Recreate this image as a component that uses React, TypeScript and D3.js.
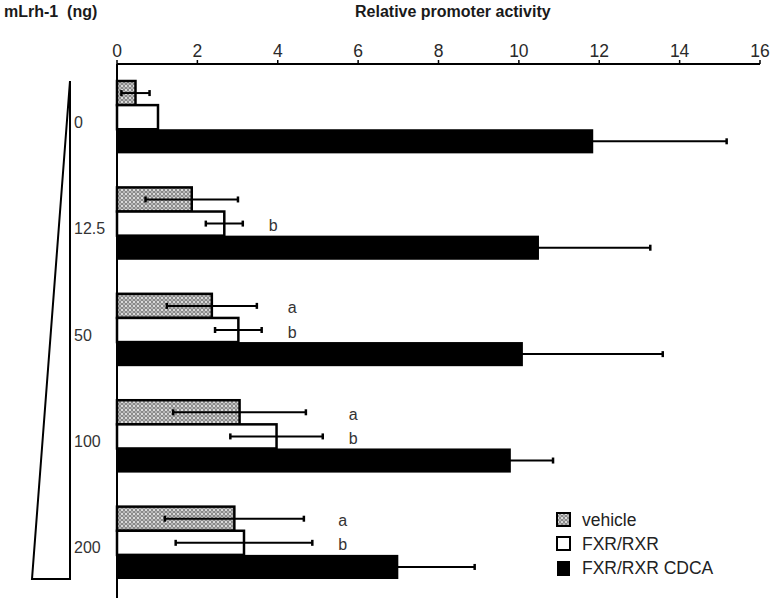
import * as d3 from 'd3'

const WIDTH = 775
const HEIGHT = 603
const MARGIN = { top: 64, left: 117, right: 15 }

const GROUPS = ['0', '12.5', '50', '100', '200']
const SERIES = ['vehicle', 'FXR/RXR', 'FXR/RXR CDCA']

const VEHICLE = [0.46, 1.86, 2.36, 3.05, 2.92]
const VEHICLE_ERR = [0.35, 1.15, 1.12, 1.65, 1.73]
const FXR = [1.02, 2.67, 3.02, 3.97, 3.16]
const FXR_ERR = [0, 0.46, 0.58, 1.15, 1.7]
const CDCA = [11.85, 10.5, 10.1, 9.8, 7.0]
const CDCA_ERR = [3.32, 2.77, 3.48, 1.05, 1.9]

// significance letters per group: [vehicle, FXR/RXR]
const LETTERS: [string, string][] = [
  ['', ''],
  ['', 'b'],
  ['a', 'b'],
  ['a', 'b'],
  ['a', 'b'],
]

const X_TICKS = [0, 2, 4, 6, 8, 10, 12, 14, 16]

const FONT = 'Arial, "Liberation Sans", Helvetica, sans-serif'

export default function App() {
  const xScale = d3.scaleLinear().domain([0, 16]).range([MARGIN.left, 760])

  const yScale = d3.scaleBand<string>()
    .domain(GROUPS)
    .range([81, 579])
    .paddingInner(0.32)
    .paddingOuter(0)

  const inner = d3.scaleBand<string>()
    .domain(SERIES)
    .range([0, yScale.bandwidth()])
    .padding(0)

  const values = [VEHICLE, FXR, CDCA]
  const errors = [VEHICLE_ERR, FXR_ERR, CDCA_ERR]
  const fills = ['url(#hatch)', '#ffffff', '#000000']

  const bh = inner.bandwidth()
  const y0 = yScale(GROUPS[0])!
  const yEnd = yScale(GROUPS[GROUPS.length - 1])! + yScale.bandwidth()

  return (
    <svg
      width={WIDTH}
      height={HEIGHT}
      style={{ position: 'absolute', left: 0, top: 0, background: '#fff', fontFamily: FONT }}
    >
      <defs>
        <pattern id="hatch" width={4} height={4} patternUnits="userSpaceOnUse">
          <rect width={4} height={4} fill="#8a8a8a" />
          <circle cx={2} cy={2} r={1.1} fill="#eeeeee" />
          <circle cx={0} cy={0} r={0.8} fill="#eeeeee" />
          <circle cx={4} cy={4} r={0.8} fill="#eeeeee" />
          <circle cx={0} cy={4} r={0.8} fill="#eeeeee" />
          <circle cx={4} cy={0} r={0.8} fill="#eeeeee" />
        </pattern>
      </defs>

      {/* titles */}
      <text x={4} y={17} fontSize={16} fontWeight="bold" fill="#1a1a1a">{'mLrh-1\u00a0\u00a0(ng)'}</text>
      <text x={355} y={17} fontSize={16} fontWeight="bold" fill="#1a1a1a">Relative promoter activity</text>

      {/* top axis */}
      <line x1={xScale(0)} x2={xScale(16)} y1={MARGIN.top} y2={MARGIN.top} stroke="#000" strokeWidth={2} />
      {X_TICKS.map(t => (
        <g key={`tick-${t}`}>
          <line x1={xScale(t)} x2={xScale(t)} y1={MARGIN.top - 4} y2={MARGIN.top} stroke="#000" strokeWidth={1.5} />
          <text x={xScale(t)} y={57} textAnchor="middle" fontSize={17.5} fill="#2a2a2a">{t}</text>
        </g>
      ))}

      {/* left axis line */}
      <line x1={xScale(0)} x2={xScale(0)} y1={MARGIN.top} y2={598} stroke="#000" strokeWidth={2} />

      {/* wedge */}
      <polygon
        points={`70,${y0} 70,${yEnd} 32,${yEnd}`}
        fill="#fff"
        stroke="#000"
        strokeWidth={2}
        strokeLinejoin="miter"
      />

      {/* group labels */}
      {GROUPS.map(g => (
        <text
          key={`glabel-${g}`}
          x={74}
          y={yScale(g)! + yScale.bandwidth() / 2 + 5}
          textAnchor="start"
          dominantBaseline="central"
          fontSize={16}
          fill="#333"
        >
          {g}
        </text>
      ))}

      {/* bars */}
      {GROUPS.map((g, gi) => (
        <g key={`bars-${g}`}>
          {SERIES.map((s, si) => {
            const y = yScale(g)! + inner(s)!
            const w = xScale(values[si][gi]) - xScale(0)
            return (
              <rect
                key={`${g}-${s}`}
                x={xScale(0)}
                y={y}
                width={w}
                height={bh}
                fill={fills[si]}
                stroke="#000"
                strokeWidth={si === 2 ? 0 : 2.5}
              />
            )
          })}
        </g>
      ))}

      {/* error bars */}
      {GROUPS.map((g, gi) => (
        <g key={`err-${g}`}>
          {SERIES.map((s, si) => {
            const e = errors[si][gi]
            if (!e) return null
            const v = values[si][gi]
            const cy = yScale(g)! + inner(s)! + bh / 2
            const xl = xScale(v - e)
            const xr = xScale(v + e)
            return (
              <g key={`${g}-${s}-err`}>
                <line x1={xl} x2={xr} y1={cy} y2={cy} stroke="#000" strokeWidth={2} />
                <line x1={xl} x2={xl} y1={cy - 3} y2={cy + 3} stroke="#000" strokeWidth={2.5} />
                <line x1={xr} x2={xr} y1={cy - 3} y2={cy + 3} stroke="#000" strokeWidth={2.5} />
              </g>
            )
          })}
        </g>
      ))}

      {/* significance letters */}
      {GROUPS.map((g, gi) => {
        const maxEnd = Math.max(VEHICLE[gi] + VEHICLE_ERR[gi], FXR[gi] + FXR_ERR[gi])
        const lx = xScale(maxEnd) + 26
        return LETTERS[gi].map((l, li) =>
          l ? (
            <text
              key={`letter-${g}-${li}`}
              x={lx}
              y={yScale(g)! + inner(SERIES[li])! + bh / 2 + 2}
              dominantBaseline="central"
              fontSize={16}
              fill="#333"
            >
              {l}
            </text>
          ) : null
        )
      })}

      {/* legend */}
      {SERIES.map((s, si) => {
        const ly = 513 + si * 24
        return (
          <g key={`legend-${s}`}>
            <rect
              x={557}
              y={ly}
              width={13}
              height={si === 2 ? 15 : 13}
              fill={fills[si]}
              stroke="#000"
              strokeWidth={si === 2 ? 0 : 2}
            />
            <text x={582} y={ly + 7} dominantBaseline="central" fontSize={17.5} fill="#222">{s}</text>
          </g>
        )
      })}
    </svg>
  )
}
